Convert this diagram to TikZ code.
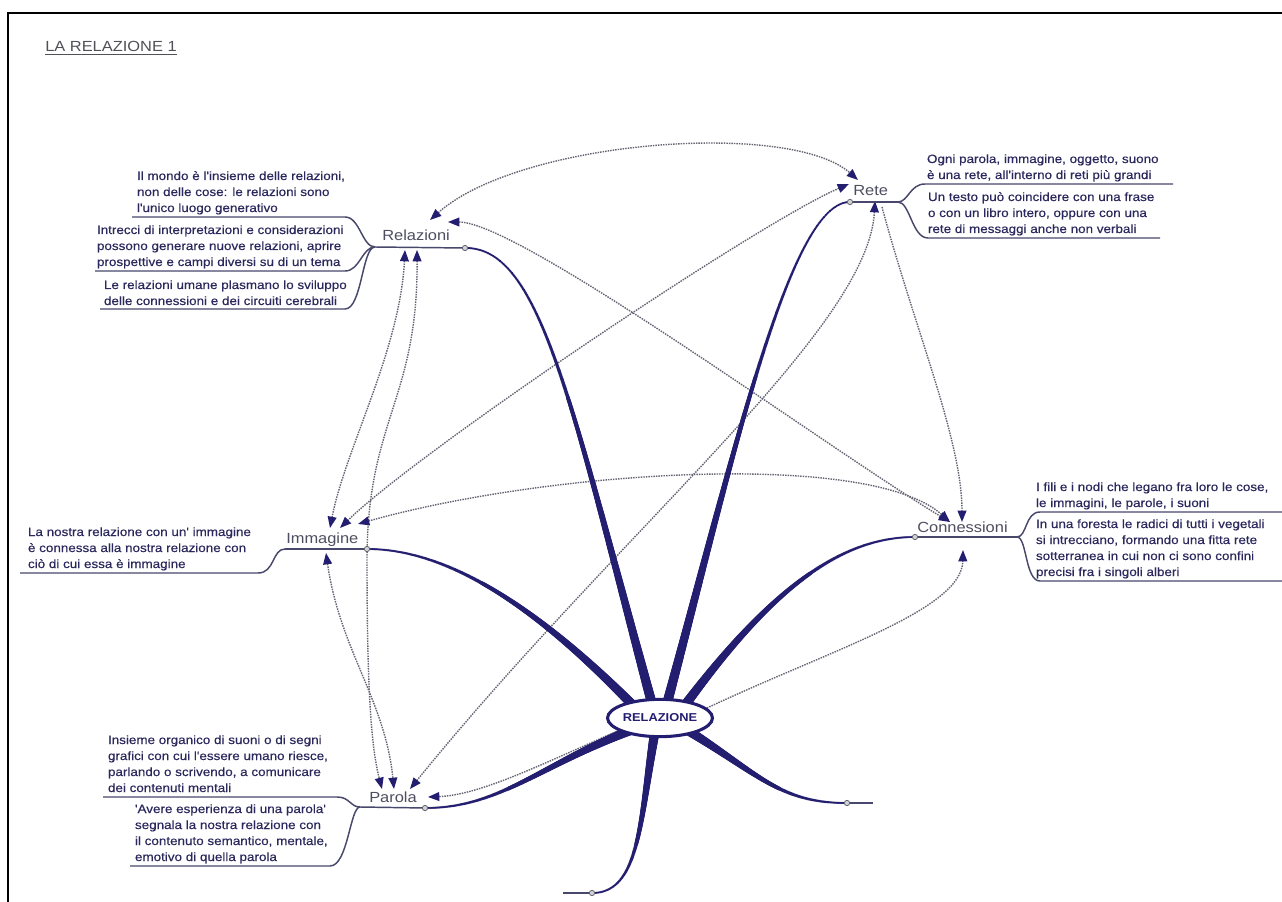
\documentclass[tikz,border=0pt]{standalone}
\usepackage{fontspec}
\setmainfont{Liberation Sans}[FakeStretch=1.12]
\newfontfamily\descfont{Liberation Sans}[FakeStretch=1.12,FakeBold=0.35]
\usetikzlibrary{arrows.meta,shapes.geometric,decorations.markings,calc}
\pgfdeclarelayer{paper}
\pgfdeclarelayer{bg}
\pgfsetlayers{paper,bg,main}
\definecolor{navy}{RGB}{36,30,112}
\definecolor{dotgray}{RGB}{100,100,115}
\definecolor{desccol}{RGB}{42,40,92}
\definecolor{topiccol}{RGB}{78,78,96}
\definecolor{outcol}{RGB}{72,72,108}
\definecolor{titlecol}{RGB}{80,80,88}
\newcommand{\mlines}[1]{\vtop{\halign{##\hfil\cr#1\crcr}}}
\tikzset{hd/.tip={Triangle[length=8.5pt,width=6.6pt,color=navy]}}
\begin{document}
\begin{tikzpicture}[x=0.75pt,y=-0.75pt,
  desctxt/.style={anchor=base west, inner sep=0pt, outer sep=0pt, text=desccol, font=\descfont\fontsize{9}{12}\selectfont},
  topictxt/.style={anchor=base west, inner sep=0pt, text=topiccol, font=\fontsize{11}{12}\selectfont},
  brline/.style={draw=outcol, line width=1.1pt},
  rline/.style={draw=dotgray, line width=1.05pt, dash pattern=on 1.1pt off 0.8pt},
  rboth/.style={rline, hd-hd},
  rone/.style={rline, -hd},
  endcirc/.style={circle, draw=dotgray, fill=gray!35, line width=0.6pt, minimum size=4pt, inner sep=0pt},
  taperline/.style={decorate, decoration={markings, mark=between positions 0 and 1 step 0.7pt with {%
     \pgfmathsetmacro\tr{0.8+2.9*(max(0.001,1-\pgfkeysvalueof{/pgf/decoration/mark info/distance from start}/\pgfdecoratedpathlength))^1.5}%
     \fill[navy] (0,0) circle[radius=\tr pt];}}}
]
\begin{pgfonlayer}{paper}
\fill[white] (0,0) rectangle (1282,902);
\end{pgfonlayer}
\useasboundingbox (0,0) rectangle (1282,902);
\draw[black, line width=1.3pt] (1282,13) -- (8,13) -- (8,902);

\node[anchor=base west, inner sep=0pt, text=titlecol, font=\fontsize{11}{13}\selectfont] (title) at (45,52) {\underline{LA RELAZIONE 1}};

% central topic
\node[ellipse, draw=navy, line width=2.3pt, fill=white, minimum width=77pt, minimum height=28pt, inner sep=0pt, text=navy, font=\bfseries\fontsize{8.6}{10}\selectfont] (ctr) at (660,718) {RELAZIONE};

% connection points (circles) and branch points
\coordinate (pRel) at (465,248);
\coordinate (pRete) at (850,202);
\coordinate (pConn) at (915,537);
\coordinate (pImm) at (367,549);
\coordinate (pPar) at (425,808);
\coordinate (pBR) at (847,803);
\coordinate (pB) at (592,893);
\coordinate (eBR) at (873,803);
\coordinate (eB) at (563,893);
\coordinate (bRel) at (375,247);
\coordinate (bRete) at (898,202);
\coordinate (bConn) at (1017,537);
\coordinate (bImm) at (285,549);
\coordinate (bPar) at (360,807);

% topic labels
\node[topictxt] (tRel) at (382,241) {Relazioni};
\node[topictxt] (tRete) at (853,196) {Rete};
\node[topictxt] (tConn) at (917,532) {Connessioni};
\node[topictxt] (tImm) at (286,543) {Immagine};
\node[topictxt] (tPar) at (369,802) {Parola};

% underlines and sub-topic outlines
\draw[brline] (bRel) -- (pRel);
\draw[brline] (bRel) .. controls (362,247) and (360,217) .. (345,217) -- (132,217);
\draw[brline] (bRel) .. controls (362,247) and (360,271) .. (345,271) -- (95,271);
\draw[brline] (bRel) .. controls (362,247) and (362,309) .. (345,309) -- (100,309);

\draw[brline] (pRete) -- (bRete);
\draw[brline] (bRete) .. controls (908,202) and (910,184) .. (925,184) -- (1173,184);
\draw[brline] (bRete) .. controls (910,202) and (912,238) .. (928,238) -- (1160,238);

\draw[brline] (pConn) -- (bConn);
\draw[brline] (bConn) .. controls (1027,537) and (1025,512) .. (1040,512) -- (1282,512);
\draw[brline] (bConn) .. controls (1027,537) and (1025,581) .. (1040,581) -- (1282,581);

\draw[brline] (bImm) -- (pImm);
\draw[brline] (bImm) .. controls (272,549) and (275,573) .. (258,573) -- (20,573);

\draw[brline] (bPar) -- (pPar);
\draw[brline] (bPar) .. controls (350,807) and (350,797) .. (337,797) -- (103,797);
\draw[brline] (bPar) .. controls (350,807) and (348,866) .. (330,866) -- (130,866);

\draw[brline] (pBR) -- (eBR);
\draw[brline] (pB) -- (eB);

% description texts
\node[desctxt] (dRel1) at (137,180) {\mlines{Il mondo è l'insieme delle relazioni,\cr non delle cose: le relazioni sono\cr l'unico luogo generativo}};
\node[desctxt] (dRel2) at (97,234) {\mlines{Intrecci di interpretazioni e considerazioni\cr possono generare nuove relazioni, aprire\cr prospettive e campi diversi su di un tema}};
\node[desctxt] (dRel3) at (104,289) {\mlines{Le relazioni umane plasmano lo sviluppo\cr delle connessioni e dei circuiti cerebrali}};
\node[desctxt] (dRete1) at (927,163) {\mlines{Ogni parola, immagine, oggetto, suono\cr è una rete, all'interno di reti più grandi}};
\node[desctxt] (dRete2) at (928,201) {\mlines{Un testo può coincidere con una frase\cr o con un libro intero, oppure con una\cr rete di messaggi anche non verbali}};
\node[desctxt] (dConn1) at (1036,491) {\mlines{I fili e i nodi che legano fra loro le cose,\cr le immagini, le parole, i suoni}};
\node[desctxt] (dConn2) at (1036,528) {\mlines{In una foresta le radici di tutti i vegetali\cr si intrecciano, formando una fitta rete\cr sotterranea in cui non ci sono confini\cr precisi fra i singoli alberi}};
\node[desctxt] (dImm) at (28,536) {\mlines{La nostra relazione con un' immagine\cr è connessa alla nostra relazione con\cr ciò di cui essa è immagine}};
\node[desctxt] (dPar1) at (108,744) {\mlines{Insieme organico di suoni o di segni\cr grafici con cui l'essere umano riesce,\cr parlando o scrivendo, a comunicare\cr dei contenuti mentali}};
\node[desctxt] (dPar2) at (135,813) {\mlines{'Avere esperienza di una parola'\cr segnala la nostra relazione con\cr il contenuto semantico, mentale,\cr emotivo di quella parola}};

% relationship arrow ports
\coordinate (aRelA) at (430,220);
\coordinate (aRelB) at (448,222);
\coordinate (aRelC) at (405,250);
\coordinate (aRelD) at (417,250);
\coordinate (aReteA) at (858,180);
\coordinate (aReteB) at (849,184);
\coordinate (aReteC) at (875,201);
\coordinate (aReteD) at (882,207);
\coordinate (aConnA) at (950,522);
\coordinate (aConnB) at (962,522);
\coordinate (aConnC) at (963,550);
\coordinate (aImmA) at (330,528);
\coordinate (aImmB) at (340,528);
\coordinate (aImmC) at (358,524);
\coordinate (aImmD) at (326,553);
\coordinate (aParA) at (382,789);
\coordinate (aParB) at (394,789);
\coordinate (aParC) at (410,789);
\coordinate (aParD) at (428,797);

\begin{pgfonlayer}{bg}
% relationship lines (dotted)
\draw[rboth] (aRelA) .. controls (520,140) and (790,120) .. (aReteA);
\draw[rboth] (aRelB) .. controls (520,222) and (830,450) .. (aConnA);
\draw[rboth] (aRelC) .. controls (400,350) and (345,450) .. (aImmA);
\draw[rboth] (aRelD) .. controls (418,400) and (367,420) .. (367,560) .. controls (367,700) and (372,750) .. (aParA);
\draw[rboth] (aReteB) .. controls (760,222) and (420,450) .. (aImmB);
\draw[rboth] (aReteC) .. controls (868,330) and (620,530) .. (aParC);
\draw[rone] (aReteD) .. controls (915,330) and (962,440) .. (aConnB);
\draw[rboth] (aImmC) .. controls (550,470) and (870,450) .. (aConnA);
\draw[rboth] (aImmD) .. controls (340,650) and (385,700) .. (aParB);
\draw[rone] (ctr.12) .. controls (830,650) and (962,610) .. (aConnC);
\draw[rone] (ctr.197) .. controls (540,765) and (480,795) .. (aParD);

% main tapered branches (start inside the ellipse, hidden by its fill)
\path[taperline] ($(ctr.center)!0.6!(ctr.122)$) .. controls (570,400) and (540,247) .. (pRel);
\path[taperline] ($(ctr.center)!0.6!(ctr.62)$) .. controls (735,450) and (790,202) .. (pRete);
\path[taperline] ($(ctr.center)!0.7!(ctr.25)$) .. controls (770,590) and (840,537) .. (pConn);
\path[taperline] ($(ctr.center)!0.7!(ctr.157)$) .. controls (540,610) and (450,549) .. (pImm);
\path[taperline] ($(ctr.center)!0.7!(ctr.203)$) .. controls (540,765) and (500,808) .. (pPar);
\path[taperline] ($(ctr.center)!0.7!(ctr.337)$) .. controls (760,775) and (780,803) .. (pBR);
\path[taperline] ($(ctr.center)!0.6!(ctr.248)$) .. controls (640,820) and (640,893) .. (pB);
\end{pgfonlayer}

% end circles
\node[endcirc] (oRel) at (pRel) {};
\node[endcirc] (oRete) at (pRete) {};
\node[endcirc] (oConn) at (pConn) {};
\node[endcirc] (oImm) at (pImm) {};
\node[endcirc] (oPar) at (pPar) {};
\node[endcirc] (oBR) at (pBR) {};
\node[endcirc] (oB) at (pB) {};
\end{tikzpicture}
\end{document}
